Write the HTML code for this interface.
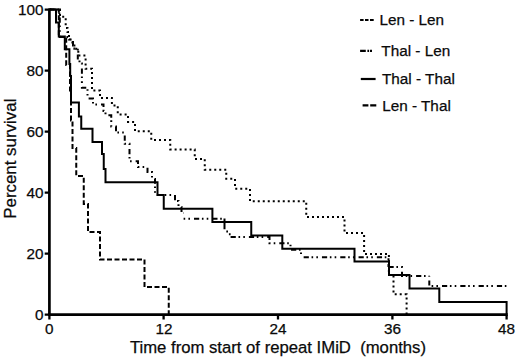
<!DOCTYPE html>
<html>
<head>
<meta charset="utf-8">
<title>Survival from start of repeat IMiD</title>
<style>
html,body{margin:0;padding:0;background:#fff;}
body{width:520px;height:361px;overflow:hidden;}
svg{display:block;}
text{font-family:"Liberation Sans",Arial,Helvetica,sans-serif;fill:#0a0a0a;stroke:#0a0a0a;stroke-width:0.25px;}
</style>
</head>
<body>
<svg width="520" height="361" viewBox="0 0 520 361">
<rect x="0" y="0" width="520" height="361" fill="#ffffff"/>

<!-- curves -->
<g fill="none" stroke="#000" stroke-linejoin="miter" stroke-linecap="butt">
  <!-- Len - Len (dotted) -->
  <path id="lenlen" stroke-width="2" stroke-dasharray="2 3"
    d="M49.5,9.5 H60 V16.8 H65.7 V28 H67.5 V32 H69 V36 H70.6 V39.4 H73 V42.5 H74.4 V45.6 H75.5 V48.75 H78.3 V55.6 H85.6 V68.75 H92 V90.6 H100 V98 H111.9 V105.5 H117.75 V114.4 H128 V121.9 H135 V131.25 H151.25 V140 H170.25 V149.4 H194.75 V159 H204.75 V169.75 H226.25 V178.75 H235 V188.75 H250 V201.25 H306.25 V217 H344.5 V233 H364.1 V254 H388.9 V275 H393.5 V294.3 H406.6 V314.5"/>
  <!-- Thal - Len (dash dot dot) -->
  <g id="thallen" stroke-width="2" stroke-dasharray="5.2 2.7 1.6 3.2 1.6 4">
    <path d="M49.5,9.5 H59.3 V17 H59.8 V37 H69 V39.4 H70.6 V42.5 H73 V45.6 H74.4 V48.75 H77.8 V60 H79.5 V63.5 H81.9 V87.75 H87.5 V98.5 H93 V104.4 H103.5 V111 H105.5 V115.3 H111.25 V126.5 H116 V132.5 H124.75 V143.75 H129.5 V161.25 H138 V167 H147.5 V172 H152 V179 H155 V195 H175 V201 H178.5 V207 H181.5 V213 H183.6"/>
    <path stroke-dashoffset="7.9" d="M183.6,218.75 H224.4"/>
    <path stroke-dasharray="none" d="M224.5,218.6 V229.2 M226.3,231.6 h1.7 M228.9,234.2 h1.7"/>
    <path d="M230.6,237 H269.5 V243.2 H290.5 V249.75 H301 V254"/>
    <path stroke-dashoffset="17.15" d="M302.5,257.3 H388.5 V267"/>
    <path d="M388.5,267 H402 V276 H429.3"/>
    <path stroke-dashoffset="13.9" d="M429.3,276 V286 H507.5"/>
  </g>
  <!-- Len - Thal (dashed) -->
  <path id="lenthal" stroke-width="2" stroke-dasharray="5 2.5"
    d="M49.5,9.5 H58.8 V37 H66.2 V65 H70 V93 H71 V120.4 H72.5 V148 H76.25 V176 H83.75 V204 H88 V232 H100 V259.5 H144.5 V287 H168.75 V314.5"/>
  <!-- Thal - Thal (solid) -->
  <path id="thalthal" stroke-width="2"
    d="M49.5,9.5 H56 V22.6 H58.8 V36.6 H64.8 V49.2 H69.4 V64 H70.2 V76 H71 V102.6 H78.9 V116.5 H81.25 V128.75 H92.5 V142 H102 V154 H103.75 V169 H105.5 V182.25 H157.5 V195 H163.75 V208.75 H212.4 V221.9 H251.25 V235.6 H282.3 V248.75 H354.5 V261.5 H389 V275 H409.5 V288.5 H439.3 V302 H506.6 V314.5"/>
</g>

<!-- axes -->
<g stroke="#000" fill="none" stroke-linecap="butt">
  <path stroke-width="2.7" d="M49.4,8.4 V316.1"/>
  <path stroke-width="2.7" d="M48.05,314.7 H507.8"/>
  <g stroke-width="2.3">
    <path d="M44.7,9.7 H49.4 M44.7,70.7 H49.4 M44.7,131.7 H49.4 M44.7,192.7 H49.4 M44.7,253.7 H49.4 M44.7,314.7 H49.4"/>
    <path d="M49.4,314.7 V319.6 M163.6,314.7 V319.6 M278,314.7 V319.6 M392.4,314.7 V319.6 M506.6,314.7 V319.6"/>
  </g>
</g>

<!-- y tick labels -->
<g font-size="15.3" text-anchor="end">
  <text x="43.5" y="15.2">100</text>
  <text x="43.5" y="76.2">80</text>
  <text x="43.5" y="137.2">60</text>
  <text x="43.5" y="198.2">40</text>
  <text x="43.5" y="259.2">20</text>
  <text x="43.5" y="320.2">0</text>
</g>
<!-- x tick labels -->
<g font-size="15.3" text-anchor="middle">
  <text x="49.2" y="334.4">0</text>
  <text x="164" y="334.4">12</text>
  <text x="277.9" y="334.4">24</text>
  <text x="392.4" y="334.4">36</text>
  <text x="506.5" y="334.4">48</text>
</g>
<!-- axis titles -->
<text font-size="16.9" text-anchor="middle" transform="translate(15.5,158.7) rotate(-90)">Percent survival</text>
<text font-size="16.7" x="129.9" y="353.2" xml:space="preserve" style="white-space:pre">Time from start of repeat IMiD  (months)</text>

<!-- legend -->
<g stroke="#000" fill="none" stroke-width="2.2">
  <path d="M360.1,20 H363.6 M365,20 H368.5 M370,20 H373.7"/>
  <path d="M360.1,50.9 H365.8 M367.4,50.9 H369.1 M370,50.9 H372"/>
  <path d="M360.8,79 H375.6"/>
  <path d="M362.6,105.4 H368.4 M370.2,105.4 H376.3"/>
</g>
<g font-size="15.3">
  <text x="379.4" y="25">Len - Len</text>
  <text x="381.3" y="56">Thal - Len</text>
  <text x="382" y="84.3">Thal - Thal</text>
  <text x="382.2" y="111">Len - Thal</text>
</g>
</svg>
</body>
</html>
